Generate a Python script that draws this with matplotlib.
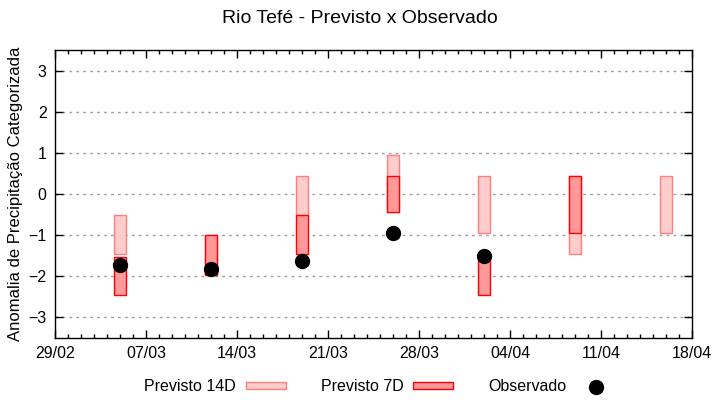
import numpy as np
import pandas as pd
import matplotlib
matplotlib.use("Agg")
import matplotlib.pyplot as plt
import matplotlib.dates as mdates
from matplotlib.patches import Rectangle
from matplotlib.lines import Line2D

plt.rcParams['font.family'] = ['Liberation Sans', 'DejaVu Sans']

# semanas de previsao
datas = ["2024-03-05", "2024-03-12", "2024-03-19", "2024-03-26",
         "2024-04-02", "2024-04-09", "2024-04-16"]

# previsao 14 dias (limite superior / inferior)
p14_sup = [-0.50, -1.00, 0.44, 0.96, 0.44, 0.44, 0.44]
p14_inf = [-1.45, -1.97, -0.52, -0.44, -0.96, -1.45, -0.96]

# previsao 7 dias
p7_sup = [-1.52, -1.00, -0.52, 0.44, -1.55, 0.44, np.nan]
p7_inf = [-2.45, -1.97, -1.46, -0.44, -2.45, -0.96, np.nan]

# observado
obs = [-1.72, -1.82, -1.62, -0.96, -1.51, np.nan, np.nan]

x = pd.to_datetime(datas)
p14_sup = np.array(p14_sup)
p14_inf = np.array(p14_inf)
p7_sup = np.array(p7_sup)
p7_inf = np.array(p7_inf)

fig = plt.figure(figsize=(7.2, 4.0), dpi=100)
ax = fig.add_axes([55 / 720, 1 - 338 / 400, 637 / 720, 288 / 400])

c14_face, c14_edge = '#ffcccc', '#ff7f7f'
c7_face, c7_edge = '#ff9999', '#ff0000'
largura = 0.95

ax.bar(x, p14_sup - p14_inf, bottom=p14_inf, width=largura,
       color=c14_face, edgecolor=c14_edge, linewidth=1, zorder=2)
m7 = ~np.isnan(p7_sup)
ax.bar(x[m7], (p7_sup - p7_inf)[m7], bottom=p7_inf[m7], width=largura,
       color=c7_face, edgecolor=c7_edge, linewidth=1, zorder=3)
ax.plot(x, obs, 'o', color='black', ms=10, zorder=4)

ax.set_xlim(pd.Timestamp("2024-02-29"), pd.Timestamp("2024-04-18"))
ax.set_ylim(-3.5, 3.5)
ax.set_yticks(np.arange(-3, 4, 1))
ax.set_xticks(pd.date_range("2024-02-29", "2024-04-18", freq="7D"))
ax.xaxis.set_major_formatter(mdates.DateFormatter("%d/%m"))
ax.xaxis.set_minor_locator(mdates.DayLocator())

ax.tick_params(direction='in', top=True, right=True, labelsize=11.5,
               length=6, width=1, pad=6, colors='black')
ax.tick_params(which='minor', direction='in', top=True, length=3, width=1)
ax.yaxis.grid(True, linestyle=(0, (2, 3)), color='#a0a0a0', linewidth=1)
ax.set_axisbelow(True)
for s in ax.spines.values():
    s.set_linewidth(1)

ax.set_ylabel("Anomalia de Precipitação Categorizada", fontsize=12, labelpad=4)
fig.suptitle("Rio Tefé - Previsto x Observado", y=0.975, fontsize=14)

handles = [Rectangle((0, 0), 1, 1, facecolor=c14_face, edgecolor=c14_edge),
           Rectangle((0, 0), 1, 1, facecolor=c7_face, edgecolor=c7_edge),
           Line2D([], [], marker='o', color='black', ls='', ms=10)]
fig.legend(handles, ["Previsto 14D", "Previsto 7D", "Observado"],
           loc='lower center', bbox_to_anchor=(0.528, -0.022), ncol=3,
           frameon=False, markerfirst=False, fontsize=11.5,
           handlelength=2.5, handleheight=0.3, columnspacing=2.2,
           handletextpad=0.6)

fig.savefig("out.png", dpi=100)
